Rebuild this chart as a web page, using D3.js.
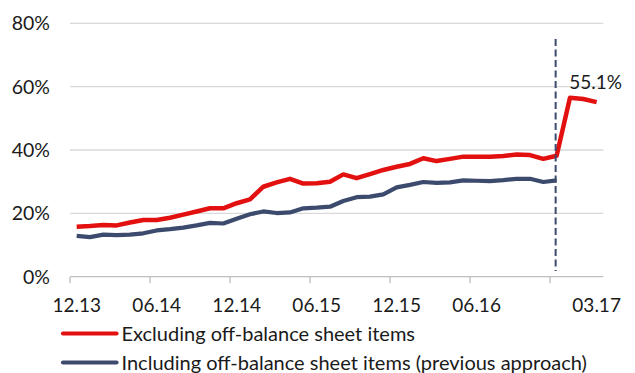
<!DOCTYPE html>
<html>
<head>
<meta charset="utf-8">
<script src="https://cdn.jsdelivr.net/npm/d3@7/dist/d3.min.js"></script>
<style>
  html, body { margin: 0; padding: 0; background: #fff; }
  svg { display: block; font-family: Lato, "Noto Sans", sans-serif; }
</style>
</head>
<body>
<svg id="chart" width="635" height="373"></svg>
<script>
// Monthly observations, Dec 2013 – Mar 2017
const months = [
  "12.13","01.14","02.14","03.14","04.14","05.14","06.14","07.14","08.14","09.14","10.14","11.14",
  "12.14","01.15","02.15","03.15","04.15","05.15","06.15","07.15","08.15","09.15","10.15","11.15",
  "12.15","01.16","02.16","03.16","04.16","05.16","06.16","07.16","08.16","09.16","10.16","11.16",
  "12.16","01.17","02.17","03.17"
];

// Share in % — excluding off-balance sheet items
const excludingOffBalance = [
  15.8, 16.0, 16.3, 16.2, 17.1, 17.9, 17.9, 18.6, 19.6, 20.6, 21.6, 21.6,
  23.2, 24.4, 28.4, 29.8, 30.9, 29.4, 29.5, 30.0, 32.3, 31.1, 32.4, 33.7,
  34.7, 35.6, 37.4, 36.5, 37.2, 37.9, 37.9, 37.9, 38.1, 38.6, 38.4, 37.2,
  38.2, 56.5, 56.1, 55.1
];

// Share in % — including off-balance sheet items (previous approach), ends Dec 2016
const includingOffBalance = [
  12.9, 12.5, 13.3, 13.1, 13.3, 13.7, 14.6, 15.0, 15.5, 16.2, 17.0, 16.8,
  18.3, 19.7, 20.6, 20.1, 20.3, 21.6, 21.8, 22.1, 23.9, 25.1, 25.3, 26.0,
  28.2, 29.0, 29.9, 29.6, 29.8, 30.4, 30.3, 30.2, 30.5, 30.9, 30.9, 29.9,
  30.4
];

const yTicks = [0, 20, 40, 60, 80];
const tickMonths = ["12.13","06.14","12.14","06.15","12.15","06.16","12.16"];
const labelMonths = ["12.13","06.14","12.14","06.15","12.15","06.16","03.17"];
const markerMonth = "12.16";
const seriesNames = [
  "Excluding off-balance sheet items",
  "Including off-balance sheet items (previous approach)"
];
const colors = ["#E2100F", "#3C4A6D"];

const svg = d3.select("#chart");
const plotLeft = 70, plotRight = 603.3, plotTop = 23.3, plotBottom = 276.7;

const x = d3.scaleBand().domain(months).range([plotLeft, plotRight]).paddingInner(0).paddingOuter(0);
const y = d3.scaleLinear().domain([0, 80]).range([plotBottom, plotTop]);
const cx = m => x(m) + x.bandwidth() / 2;

// horizontal gridlines
svg.append("g").selectAll("line")
  .data(yTicks.filter(d => d > 0))
  .join("line")
  .attr("x1", plotLeft).attr("x2", plotRight)
  .attr("y1", d => y(d)).attr("y2", d => y(d))
  .attr("stroke", "#D9D9D9").attr("stroke-width", 1.3);

// y-axis labels
svg.append("g").selectAll("text")
  .data(yTicks)
  .join("text")
  .attr("x", 50).attr("y", d => y(d))
  .attr("dy", "0.36em")
  .attr("text-anchor", "end")
  .attr("font-size", 19.5)
  .attr("fill", "#1a1a1a")
  .text(d => d + "%");

// x-axis baseline and ticks
const xAxis = svg.append("g");
xAxis.append("line")
  .attr("x1", plotLeft).attr("x2", plotRight)
  .attr("y1", plotBottom).attr("y2", plotBottom)
  .attr("stroke", "#BFBFBF").attr("stroke-width", 1.3);
xAxis.selectAll("line.tick")
  .data(tickMonths)
  .join("line").attr("class", "tick")
  .attr("x1", d => x(d)).attr("x2", d => x(d))
  .attr("y1", plotBottom).attr("y2", plotBottom + 6.5)
  .attr("stroke", "#BFBFBF").attr("stroke-width", 1.3);
xAxis.selectAll("text")
  .data(labelMonths)
  .join("text")
  .attr("x", d => cx(d)).attr("y", 311.5)
  .attr("text-anchor", "middle")
  .attr("font-size", 19)
  .attr("fill", "#1a1a1a")
  .text(d => d);

// lines
const line = d3.line()
  .x((d, i) => cx(months[i]))
  .y(d => y(d));

svg.append("path")
  .datum(includingOffBalance)
  .attr("fill", "none")
  .attr("stroke", colors[1])
  .attr("stroke-width", 4.2)
  .attr("stroke-linejoin", "round")
  .attr("d", line);

svg.append("path")
  .datum(excludingOffBalance)
  .attr("fill", "none")
  .attr("stroke", colors[0])
  .attr("stroke-width", 4.5)
  .attr("stroke-linejoin", "round")
  .attr("d", line);

// dashed marker at the change of approach
svg.append("line")
  .attr("x1", cx(markerMonth) - 1).attr("x2", cx(markerMonth) - 1)
  .attr("y1", 39).attr("y2", 271)
  .attr("stroke", colors[1])
  .attr("stroke-width", 2)
  .attr("stroke-dasharray", "7,3.5");

// value label on the last point
const lastIdx = excludingOffBalance.length - 1;
const lastVal = excludingOffBalance[lastIdx];
svg.append("text")
  .attr("x", cx(months[lastIdx]) - 1)
  .attr("y", y(lastVal) - 13)
  .attr("text-anchor", "middle")
  .attr("font-size", 19)
  .attr("fill", "#1a1a1a")
  .text(lastVal.toFixed(1) + "%");

// legend
const legend = svg.append("g");
const rows = [333.5, 362.5];
seriesNames.forEach((name, i) => {
  legend.append("line")
    .attr("x1", 63).attr("x2", 116.5)
    .attr("y1", rows[i]).attr("y2", rows[i])
    .attr("stroke", colors[i])
    .attr("stroke-width", 4.2)
    .attr("stroke-linecap", "round");
  legend.append("text")
    .attr("x", 121.5).attr("y", rows[i])
    .attr("dy", "0.36em")
    .attr("font-size", 20)
    .attr("fill", "#1a1a1a")
    .text(name);
});
</script>
</body>
</html>
